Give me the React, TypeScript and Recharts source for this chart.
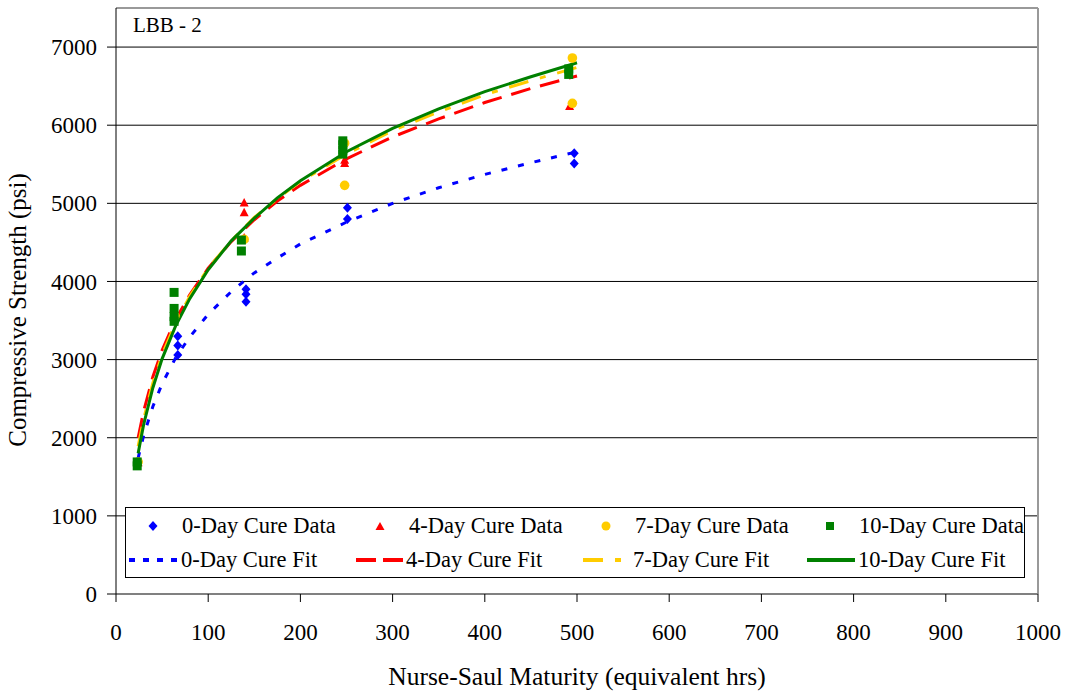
import React from 'react';
import { ScatterChart, Scatter, XAxis, YAxis, CartesianGrid, ReferenceLine } from 'recharts';

// measured data (maturity hrs, psi)
const day0Data = [
  { x: 24, y: 1700 }, { x: 67, y: 3300 }, { x: 67, y: 3180 }, { x: 67, y: 3060 },
  { x: 141, y: 3900 }, { x: 141, y: 3835 }, { x: 141, y: 3740 },
  { x: 251, y: 4945 }, { x: 251, y: 4800 }, { x: 497, y: 5640 }, { x: 497, y: 5510 },
];
const day4Data = [
  { x: 24, y: 1680 }, { x: 64, y: 3620 }, { x: 139, y: 5005 }, { x: 139, y: 4880 }, { x: 139, y: 4555 },
  { x: 248, y: 5550 }, { x: 248, y: 5510 }, { x: 492, y: 6240 },
];
const day7Data = [
  { x: 24, y: 1690 }, { x: 64, y: 3560 }, { x: 139, y: 4540 },
  { x: 248, y: 5770 }, { x: 248, y: 5230 }, { x: 495, y: 6860 }, { x: 495, y: 6280 },
];
const day10Data = [
  { x: 23, y: 1690 }, { x: 23, y: 1640 },
  { x: 63, y: 3860 }, { x: 63, y: 3655 }, { x: 63, y: 3550 }, { x: 63, y: 3490 },
  { x: 136, y: 4530 }, { x: 136, y: 4390 },
  { x: 246, y: 5800 }, { x: 246, y: 5750 }, { x: 246, y: 5680 }, { x: 246, y: 5630 },
  { x: 491, y: 6720 }, { x: 491, y: 6650 },
];

// fitted curves
const fitX = [24, 30, 40, 50, 65, 80, 100, 125, 150, 175, 200, 250, 300, 350, 400, 450, 500];
const fit0 = [1740, 2030, 2400, 2690, 3030, 3290, 3580, 3870, 4110, 4300, 4480, 4760, 5000, 5200, 5370, 5520, 5660];
const fit4 = [2000, 2340, 2780, 3120, 3520, 3830, 4170, 4510, 4790, 5030, 5230, 5570, 5850, 6080, 6290, 6470, 6630];
const fit7 = [1890, 2240, 2700, 3060, 3480, 3810, 4170, 4520, 4820, 5060, 5280, 5630, 5930, 6170, 6390, 6570, 6740];
const fit10 = [1800, 2170, 2640, 3010, 3440, 3780, 4150, 4520, 4810, 5070, 5290, 5660, 5960, 6210, 6430, 6620, 6800];

const xTicks = [0, 100, 200, 300, 400, 500, 600, 700, 800, 900, 1000];
const yTicks = [0, 1000, 2000, 3000, 4000, 5000, 6000, 7000];

const toPoints = (ys: number[]) => fitX.map((x, i) => ({ x, y: ys[i] }));

const BLUE = '#0000FF';
const RED = '#FF0000';
const YELLOW = '#FFCC00';
const GREEN = '#008000';
const FONT = '"Liberation Serif", "Times New Roman", serif';

const Diamond = (p: any) => (
  <polygon points={`${p.cx},${p.cy - 5} ${p.cx + 4.5},${p.cy} ${p.cx},${p.cy + 5} ${p.cx - 4.5},${p.cy}`} fill={BLUE} />
);
const Triangle = (p: any) => (
  <polygon points={`${p.cx},${p.cy - 5} ${p.cx + 4.5},${p.cy + 3.5} ${p.cx - 4.5},${p.cy + 3.5}`} fill={RED} />
);
const Dot = (p: any) => <circle cx={p.cx} cy={p.cy} r={4.8} fill={YELLOW} />;
const Square = (p: any) => <rect x={p.cx - 4.5} y={p.cy - 4.5} width={9} height={9} fill={GREEN} />;
const NoMark = () => <g />;

const legendRow1 = [
  { label: '0-Day Cure Data', left: 147, textLeft: 181, mark: <polygon points="5,0 9.5,5 5,10 0.5,5" fill={BLUE} /> },
  { label: '4-Day Cure Data', left: 374, textLeft: 408, mark: <polygon points="5,1 9.5,9 0.5,9" fill={RED} /> },
  { label: '7-Day Cure Data', left: 600, textLeft: 634, mark: <circle cx={5} cy={5} r={4.5} fill={YELLOW} /> },
  { label: '10-Day Cure Data', left: 824, textLeft: 858, mark: <rect x={1} y={1} width={8} height={8} fill={GREEN} /> },
];
const legendRow2 = [
  { label: '0-Day Cure Fit', left: 128, textLeft: 180, color: BLUE, dash: '6 8' },
  { label: '4-Day Cure Fit', left: 355, textLeft: 405, color: RED, dash: '20 7' },
  { label: '7-Day Cure Fit', left: 582, textLeft: 632, color: YELLOW, dash: '20 12 6 12' },
  { label: '10-Day Cure Fit', left: 806, textLeft: 857, color: GREEN, dash: undefined },
];

export default function App() {
  return (
    <div style={{ position: 'absolute', left: 0, top: 0, width: 1071, height: 694, background: '#fff', fontFamily: FONT }}>
      <ScatterChart width={1071} height={694} margin={{ top: 8, right: 33, left: 0, bottom: 0 }}>
        <CartesianGrid vertical={false} stroke="#000" strokeWidth={1} />
        <XAxis
          type="number" dataKey="x" domain={[0, 1000]} ticks={xTicks} height={100}
          stroke="#000" axisLine={{ stroke: '#808080', strokeWidth: 2 }}
          tickSize={8} tickMargin={22}
          tick={{ fill: '#000', fontSize: 23, fontFamily: FONT }}
          label={() => (
            <text x={577} y={685} textAnchor="middle" fontSize={25.5} fontFamily={FONT} fill="#000">
              Nurse-Saul Maturity (equivalent hrs)
            </text>
          )}
        />
        <YAxis
          type="number" dataKey="y" domain={[0, 7500]} ticks={yTicks} width={116}
          stroke="#000" tickSize={9} tickMargin={10} allowDataOverflow
          tick={{ fill: '#000', fontSize: 23, fontFamily: FONT }}
          label={() => (
            <text x={26} y={310} transform="rotate(-90 26 310)" textAnchor="middle" fontSize={25} fontFamily={FONT} fill="#000">
              Compressive Strength (psi)
            </text>
          )}
        />
        <ReferenceLine y={7500} stroke="#999" strokeWidth={2} />
        <ReferenceLine x={1000} stroke="#999" strokeWidth={2} />

        <Scatter data={toPoints(fit0)} line={{ stroke: BLUE, strokeWidth: 3, strokeDasharray: '6 11' }} lineType="joint" shape={NoMark} isAnimationActive={false} />
        <Scatter data={toPoints(fit4)} line={{ stroke: RED, strokeWidth: 3, strokeDasharray: '20 10' }} lineType="joint" shape={NoMark} isAnimationActive={false} />
        <Scatter data={toPoints(fit7)} line={{ stroke: YELLOW, strokeWidth: 3, strokeDasharray: '20 12 6 12' }} lineType="joint" shape={NoMark} isAnimationActive={false} />
        <Scatter data={toPoints(fit10)} line={{ stroke: GREEN, strokeWidth: 3 }} lineType="joint" shape={NoMark} isAnimationActive={false} />

        <Scatter data={day0Data} shape={Diamond} isAnimationActive={false} />
        <Scatter data={day4Data} shape={Triangle} isAnimationActive={false} />
        <Scatter data={day7Data} shape={Dot} isAnimationActive={false} />
        <Scatter data={day10Data} shape={Square} isAnimationActive={false} />
      </ScatterChart>

      <div style={{ position: 'absolute', left: 133, top: 13, fontSize: 21, lineHeight: '24px', color: '#000' }}>LBB - 2</div>

      <div style={{ position: 'absolute', left: 125, top: 507, width: 900, height: 71, border: '1px solid #000', background: '#fff', boxSizing: 'border-box' }}>
        {legendRow1.map((it) => (
          <React.Fragment key={it.label}>
            <svg width={10} height={10} style={{ position: 'absolute', left: it.left - 125, top: 13 }}>{it.mark}</svg>
            <div style={{ position: 'absolute', left: it.textLeft - 125, top: 5, fontSize: 22.5, lineHeight: '26px', whiteSpace: 'nowrap' }}>{it.label}</div>
          </React.Fragment>
        ))}
        {legendRow2.map((it) => (
          <React.Fragment key={it.label}>
            <svg width={48} height={6} style={{ position: 'absolute', left: it.left - 125, top: 49 }}>
              <line x1={0} y1={3} x2={48} y2={3} stroke={it.color} strokeWidth={4} strokeDasharray={it.dash} />
            </svg>
            <div style={{ position: 'absolute', left: it.textLeft - 125, top: 39, fontSize: 22.5, lineHeight: '26px', whiteSpace: 'nowrap' }}>{it.label}</div>
          </React.Fragment>
        ))}
      </div>
    </div>
  );
}
